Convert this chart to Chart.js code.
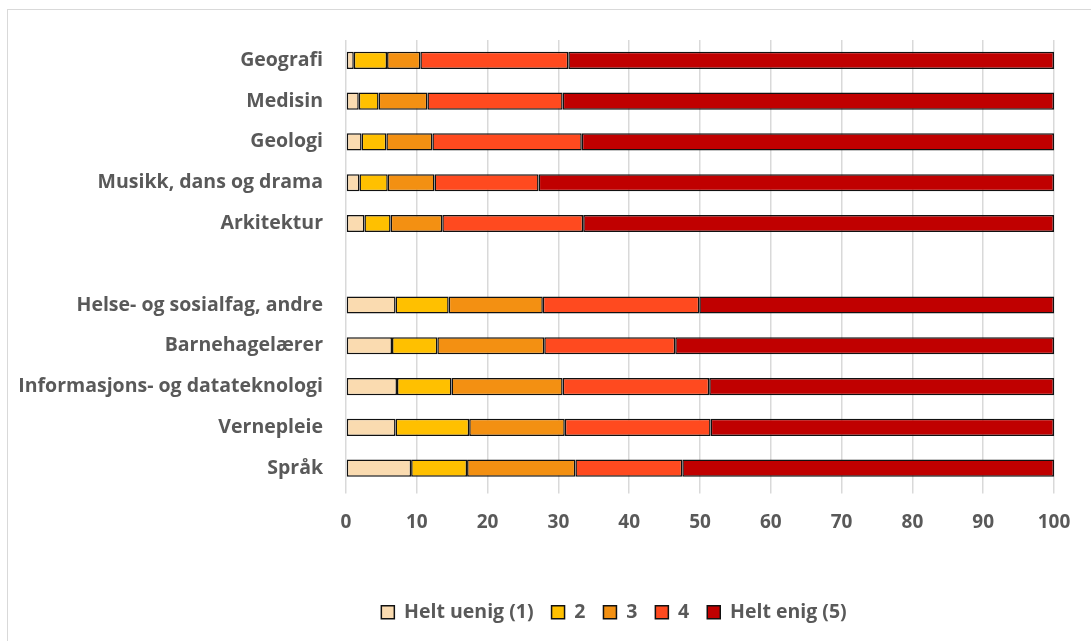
<!DOCTYPE html>
<html>
<head>
<meta charset="utf-8">
<script src="https://cdn.jsdelivr.net/npm/chart.js@4.4.1/dist/chart.umd.min.js"></script>
<style>
  html, body { margin: 0; padding: 0; background: #fff; }
  #frame { position: absolute; left: 7px; top: 9px; width: 1200px; height: 700px; border-left: 1.5px solid #d9d9d9; border-top: 1.5px solid #d9d9d9; }
  #wrap { position: absolute; left: 0; top: 0; width: 1091px; height: 641px; }
</style>
</head>
<body>
<div id="frame"></div>
<div id="wrap"><canvas id="c" width="1091" height="641"></canvas></div>
<script>
const categories = ['Geografi', 'Medisin', 'Geologi', 'Musikk, dans og drama', 'Arkitektur', '',
  'Helse- og sosialfag, andre', 'Barnehagelærer', 'Informasjons- og datateknologi', 'Vernepleie', 'Språk'];
const seriesNames = ['Helt uenig (1)', '2', '3', '4', 'Helt enig (5)'];
const helt_uenig = [1.1, 1.8, 2.2, 1.9, 2.6, null, 7.0, 6.5, 7.2, 7.0, 9.2];
const val2 = [4.7, 2.8, 3.5, 4.0, 3.7, null, 7.5, 6.4, 7.7, 10.4, 7.9];
const val3 = [4.7, 6.9, 6.5, 6.6, 7.3, null, 13.3, 15.1, 15.7, 13.5, 15.3];
const val4 = [20.9, 19.1, 21.1, 14.7, 19.9, null, 22.1, 18.5, 20.7, 20.6, 15.1];
const helt_enig = [68.6, 69.4, 66.7, 72.8, 66.5, null, 50.1, 53.5, 48.7, 48.5, 52.5];
const xTicks = [0, 10, 20, 30, 40, 50, 60, 70, 80, 90, 100];

const colors = ['#FADBB0', '#FFC000', '#F39012', '#FF4A1F', '#C00000'];
const allSeries = [helt_uenig, val2, val3, val4, helt_enig];

const textColor = '#595959';
const fontFamily = '"Open Sans", "Liberation Sans", sans-serif';

const shiftLegend = {
  id: 'shiftLegend',
  afterLayout(chart) {
    const lg = chart.legend;
    if (!lg) return;
    const pad = lg.options.labels.padding;
    const dx = 623 - (lg.left + lg.right + pad) / 2;
    lg.left += dx; lg.right += dx;
  }
};

new Chart(document.getElementById('c'), {
  type: 'bar',
  data: {
    labels: categories,
    datasets: allSeries.map((d, i) => ({
      label: seriesNames[i],
      data: d,
      backgroundColor: colors[i],
      borderColor: '#111111',
      borderWidth: 1.5,
      borderSkipped: false,
      barPercentage: 0.42,
      categoryPercentage: 1.0
    }))
  },
  options: {
    indexAxis: 'y',
    responsive: false,
    animation: false,
    devicePixelRatio: 1,
    layout: { padding: { top: 40, bottom: 9, left: 0, right: 37 } },
    scales: {
      x: {
        stacked: true,
        min: 0, max: 100,
        afterBuildTicks(scale) { scale.ticks = xTicks.map(v => ({ value: v })); },
        afterFit(scale) { scale.height = 96; },
        grid: { color: '#d9d9d9', lineWidth: 1.5, drawTicks: true, tickLength: 5 },
        border: { display: false },
        ticks: { color: textColor, font: { family: fontFamily, size: 19, weight: 'bold' }, padding: 18 }
      },
      y: {
        stacked: true,
        afterFit(scale) { scale.width = 346; },
        grid: { display: false, drawTicks: false },
        border: { display: false },
        ticks: { color: textColor, font: { family: fontFamily, size: 19.5, weight: 'bold' }, padding: 23, autoSkip: false }
      }
    },
    plugins: {
      tooltip: { enabled: false },
      legend: {
        position: 'bottom',
        labels: {
          color: textColor,
          font: { family: fontFamily, size: 19.5, weight: 'bold' },
          boxWidth: 13, boxHeight: 13, padding: 18
        }
      }
    }
  },
  plugins: [shiftLegend]
});
</script>
</body>
</html>
